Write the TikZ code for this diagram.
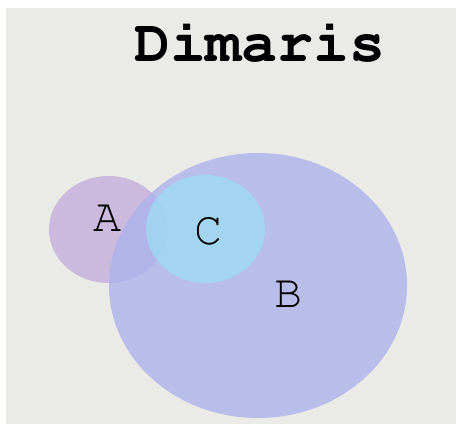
\documentclass[tikz,border=0pt]{standalone}
\usepackage[T1]{fontenc}
\newcommand{\courierfont}[2]{\fontfamily{pcr}\fontseries{#1}\fontsize{#2}{#2}\selectfont}
\definecolor{paper}{RGB}{234,234,230}
\definecolor{setA}{RGB}{192,165,220}
\definecolor{setB}{RGB}{172,178,236}
\definecolor{setC}{RGB}{158,218,242}
\tikzset{setlabel/.style={font=\courierfont{m}{47}, anchor=center}}
\begin{document}
\begin{tikzpicture}[x=1pt, y=-1pt]
\useasboundingbox (0,0) rectangle (456,427);
\fill[white](0,0) rectangle (456,427);
\fill[paper](6,8) rectangle (456,424);
% the three sets
\fill[setA, fill opacity=0.7](108.5,229.5) ellipse [x radius=59.5, y radius=53.5];
\fill[setB, fill opacity=0.8](258,285.5) ellipse [x radius=149, y radius=132.5];
\fill[setC, fill opacity=0.8](205.5,229) ellipse [x radius=59.5, y radius=54];
\node[anchor=base, font=\courierfont{b}{60}](title) at (260,62){Dimaris};
\node[setlabel](labA) at (108,218){A};
\node[setlabel](labC) at (209,231){C};
\node[setlabel](labB) at (289,294){B};
\end{tikzpicture}
\end{document}
